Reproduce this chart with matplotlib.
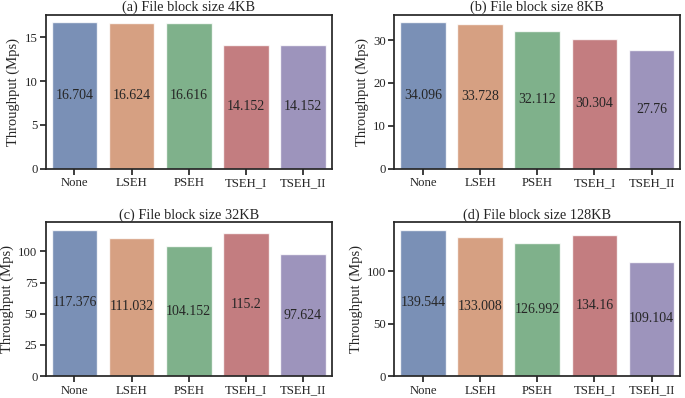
import numpy as np
import matplotlib
matplotlib.use('Agg')
from matplotlib import pyplot as plt
import matplotlib.ticker as ticker
import seaborn as sns

methods = ["None", "LSEH", "PSEH", "TSEH_I", "TSEH_II"]
titles = [
    "(a) File block size 4KB",
    "(b) File block size 8KB",
    "(c) File block size 32KB",
    "(d) File block size 128KB",
]
tp_4kb = [16.704, 16.624, 16.616, 14.152, 14.152]
tp_8kb = [34.096, 33.728, 32.112, 30.304, 27.76]
tp_32kb = [117.376, 111.032, 104.152, 115.2, 97.624]
tp_128kb = [139.544, 133.008, 126.992, 134.16, 109.104]
ytick_steps = [5, 10, 25, 50]

sns.set_theme(style="ticks")
plt.rcParams['font.family'] = ['Liberation Serif', 'DejaVu Serif']

# seaborn barplot look: desaturated deep palette
colors = [sns.desaturate(c, 0.75) for c in sns.color_palette("deep", 5)]

fig, axs = plt.subplots(2, 2, figsize=(6.85, 3.98), dpi=100)
data = [tp_4kb, tp_8kb, tp_32kb, tp_128kb]
for ax, title, vals, step in zip(axs.flat, titles, data, ytick_steps):
    x = np.arange(len(methods))
    ax.bar(x, vals, width=0.8, color=colors, alpha=0.8,
           edgecolor='white', linewidth=1)
    for xi, v in zip(x, vals):
        ax.text(xi, v / 2, f"{v:g}", ha='center', va='center',
                fontsize=10, color='#262626')
    ax.set_xticks(x)
    ax.set_xticklabels(methods)
    ax.yaxis.set_major_locator(ticker.MultipleLocator(step))
    ax.tick_params(axis='both', labelsize=9.2, length=4.3, pad=1.8)
    ax.set_xlim(-0.5, 4.5)
    ax.set_title(title, fontsize=10.3, pad=3)
    ax.set_ylabel("Throughput (Mps)", fontsize=10.5, labelpad=3)

plt.subplots_adjust(left=0.067, right=0.993, top=0.962, bottom=0.055,
                    wspace=0.22, hspace=0.35)
plt.savefig("out.png")
